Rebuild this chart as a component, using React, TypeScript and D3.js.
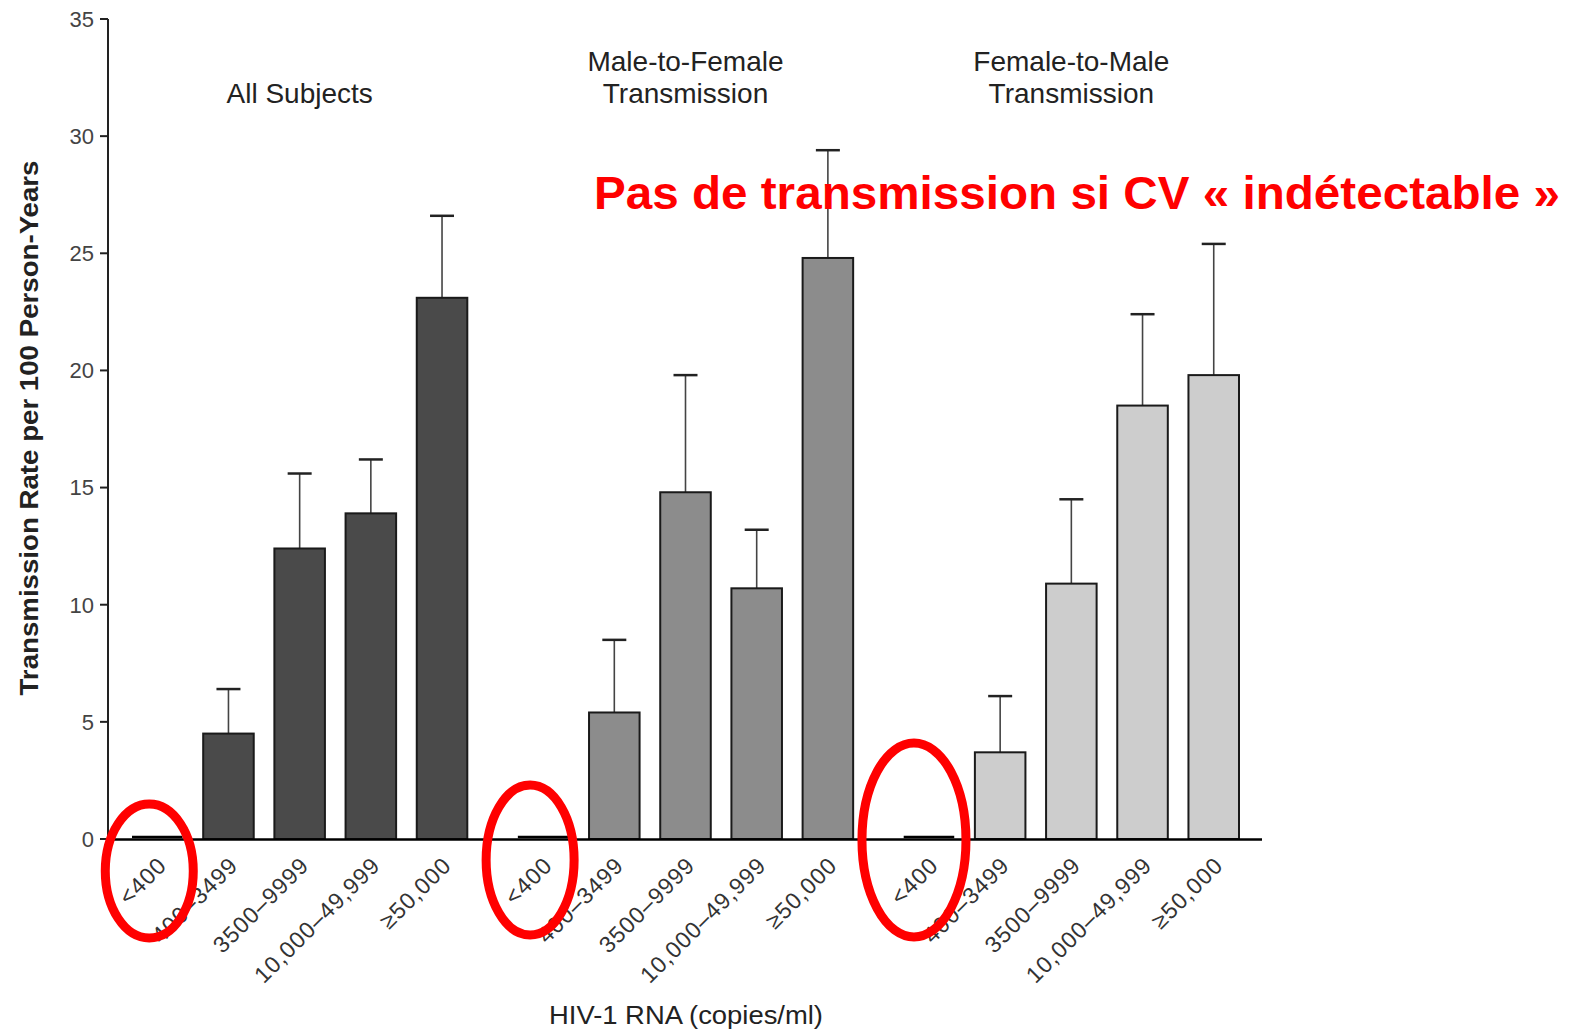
import React from "react";
import * as d3 from "d3";

const groups = ["All Subjects", "Male-to-Female Transmission", "Female-to-Male Transmission"];
const groupTitleLines = [["All Subjects"], ["Male-to-Female", "Transmission"], ["Female-to-Male", "Transmission"]];
const categories = ["<400", "400–3499", "3500–9999", "10,000–49,999", "≥50,000"];
const allSubjects = [0, 4.5, 12.4, 13.9, 23.1];
const allSubjectsUpper = [0, 6.4, 15.6, 16.2, 26.6];
const maleToFemale = [0, 5.4, 14.8, 10.7, 24.8];
const maleToFemaleUpper = [0, 8.5, 19.8, 13.2, 29.4];
const femaleToMale = [0, 3.7, 10.9, 18.5, 19.8];
const femaleToMaleUpper = [0, 6.1, 14.5, 22.4, 25.4];
const yTicks = [0, 5, 10, 15, 20, 25, 30, 35];

const seriesValues = [allSubjects, maleToFemale, femaleToMale];
const seriesUpper = [allSubjectsUpper, maleToFemaleUpper, femaleToMaleUpper];
const groupFills = ["#4a4a4a", "#8c8c8c", "#cdcdcd"];

// annotation ellipses around the "<400" bars (offsets relative to bar centre)
const ellipses = [
  { dx: -8, cy: 871, rx: 44, ry: 67 },
  { dx: -13, cy: 860, rx: 44, ry: 75 },
  { dx: -15, cy: 840, rx: 52, ry: 97 },
];

const FONT = "'Liberation Sans', Arial, Helvetica, sans-serif";

export default function App() {
  const W = 1573, H = 1030;
  const axisX = 108;
  const y = d3.scaleLinear().domain([0, 35]).range([839, 19]);
  const x0 = d3.scaleBand<string>().domain(groups).range([132, 1239]).paddingInner(0.131).paddingOuter(0);
  const x1 = d3.scaleBand<string>().domain(categories).range([0, x0.bandwidth()]).paddingInner(0.29).paddingOuter(0);
  const y0 = y(0);
  const bw = x1.bandwidth();

  return (
    <svg width={W} height={H} style={{ position: "absolute", left: 0, top: 0, background: "#fff" }} fontFamily={FONT}>
      {/* Bars */}
      {groups.map((g, gi) => (
        <g key={g}>
          {categories.map((c, ci) => {
            const v = seriesValues[gi][ci];
            const up = seriesUpper[gi][ci];
            const bx = (x0(g) as number) + (x1(c) as number);
            const cx = bx + bw / 2;
            if (v === 0) {
              return <line key={c} x1={bx} x2={bx + bw} y1={y0 - 2} y2={y0 - 2} stroke="#000" strokeWidth={2.5} />;
            }
            return (
              <g key={c}>
                <line x1={cx} x2={cx} y1={y(v)} y2={y(up)} stroke="#444" strokeWidth={1.6} />
                <line x1={cx - 12} x2={cx + 12} y1={y(up)} y2={y(up)} stroke="#222" strokeWidth={2.5} />
                <rect x={bx} y={y(v)} width={bw} height={y0 - y(v)} fill={groupFills[gi]} stroke="#1a1a1a" strokeWidth={2} />
              </g>
            );
          })}
        </g>
      ))}

      {/* Y axis */}
      <line x1={axisX} x2={axisX} y1={y(35)} y2={y0} stroke="#222" strokeWidth={2} />
      {yTicks.map((t) => (
        <g key={t}>
          <line x1={axisX - 8} x2={axisX} y1={y(t)} y2={y(t)} stroke="#222" strokeWidth={2} />
          <text x={axisX - 14} y={y(t)} dy="0.36em" textAnchor="end" fontSize={22} fill="#444">
            {t}
          </text>
        </g>
      ))}
      {/* X axis */}
      <line x1={axisX} x2={1262} y1={y0 + 0.5} y2={y0 + 0.5} stroke="#000" strokeWidth={2.5} />

      {/* Category labels */}
      {groups.map((g) =>
        categories.map((c) => {
          const cx = (x0(g) as number) + (x1(c) as number) + bw / 2;
          return (
            <text
              key={g + c}
              transform={`translate(${cx - 1},${y0 + 16}) rotate(-45)`}
              textAnchor="end"
              dy="0.72em"
              fontSize={23}
              letterSpacing={1}
              fill="#333"
            >
              {c}
            </text>
          );
        })
      )}

      {/* Group titles */}
      {groups.map((g, gi) => {
        const cx = (x0(g) as number) + x0.bandwidth() / 2;
        const lines = groupTitleLines[gi];
        return (
          <text key={g} textAnchor="middle" fontSize={28} fill="#222">
            {lines.map((ln, li) => (
              <tspan key={li} x={cx} y={103 - (lines.length - 1 - li) * 32}>
                {ln}
              </tspan>
            ))}
          </text>
        );
      })}

      {/* Axis titles */}
      <text
        transform={`translate(38,428) rotate(-90)`}
        textAnchor="middle"
        fontSize={26}
        fontWeight="bold"
        fill="#222"
        textLength={535}
        lengthAdjust="spacingAndGlyphs"
      >
        Transmission Rate per 100 Person-Years
      </text>
      <text x={686} y={1024} textAnchor="middle" fontSize={26} fill="#222" textLength={274} lengthAdjust="spacingAndGlyphs">
        HIV-1 RNA (copies/ml)
      </text>

      {/* Red annotation */}
      <text x={594} y={209} fontSize={47} fontWeight="bold" fill="#ff0000" textLength={966} lengthAdjust="spacingAndGlyphs">
        Pas de transmission si CV « indétectable »
      </text>
      {groups.map((g, gi) => {
        const cx = (x0(g) as number) + (x1(categories[0]) as number) + bw / 2;
        const e = ellipses[gi];
        return <ellipse key={g} cx={cx + e.dx} cy={e.cy} rx={e.rx} ry={e.ry} fill="none" stroke="#ff0000" strokeWidth={9} />;
      })}
    </svg>
  );
}
